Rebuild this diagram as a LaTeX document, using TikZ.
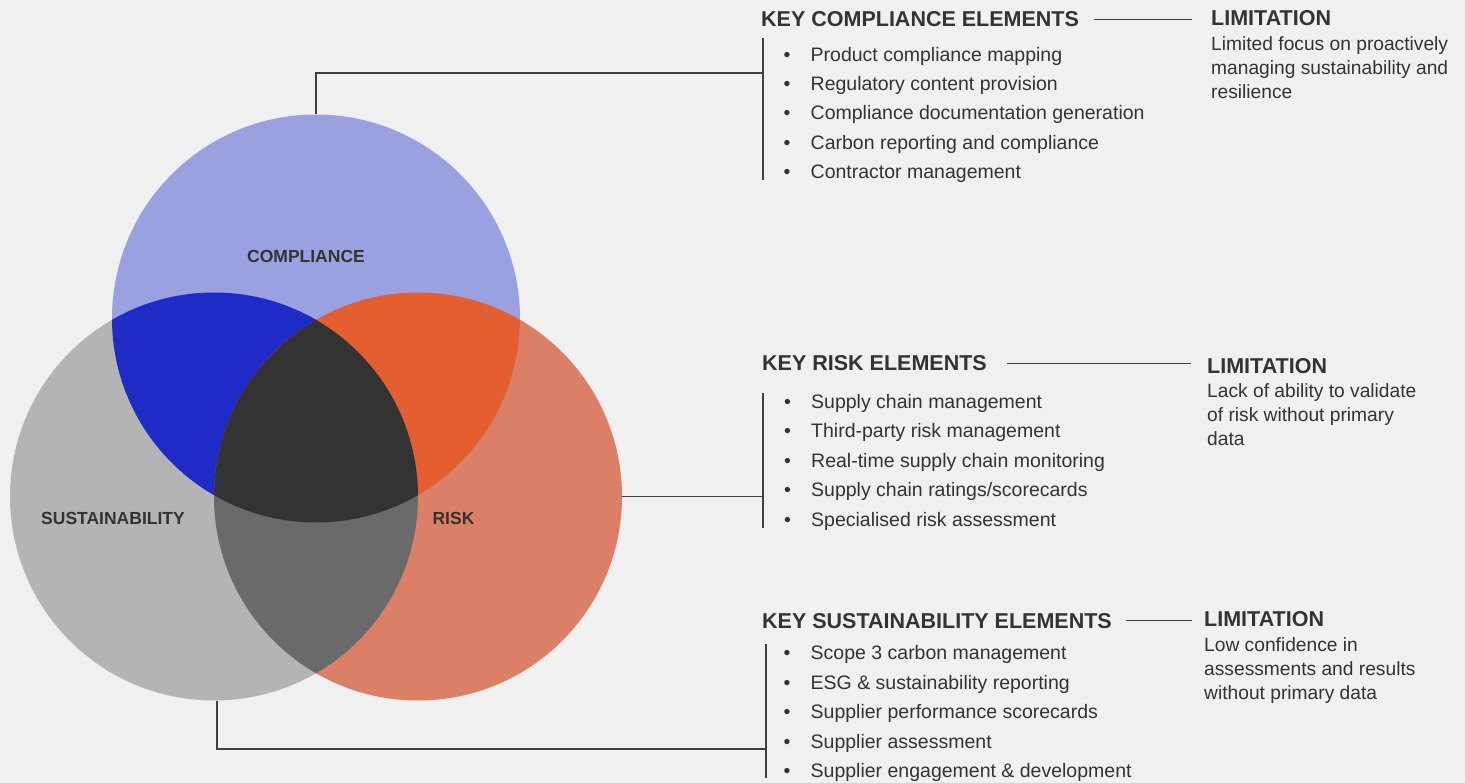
\documentclass[tikz,border=0pt]{standalone}
\usepackage{fontspec}
\setmainfont{Liberation Sans}
\usepackage{xcolor}
\definecolor{bgpaper}{HTML}{F0F0F0}
\definecolor{inkdark}{HTML}{333333}
\definecolor{linegrey}{HTML}{404040}
\definecolor{compfill}{HTML}{9BA1E0}
\definecolor{sustfill}{HTML}{B4B4B4}
\definecolor{riskfill}{HTML}{DB8066}
\definecolor{compsust}{HTML}{1F2BC6}
\definecolor{comprisk}{HTML}{E55E30}
\definecolor{sustrisk}{HTML}{6A6A6A}
\definecolor{allthree}{HTML}{333333}
\usepackage{tikz}
\usetikzlibrary{positioning,calc}
\tikzset{
  ring/.style={circle, minimum size=408pt, inner sep=0pt},
  setlabel/.style={font=\bfseries\fontsize{17.5}{21}\selectfont, text=inkdark, inner sep=0pt, anchor=base},
  elemhead/.style={font=\bfseries\fontsize{21.5}{26}\selectfont, text=inkdark, inner sep=0pt, anchor=base west},
  elemitem/.style={font=\fontsize{19.5}{24}\selectfont, text=inkdark, inner sep=0pt, anchor=base west},
  limtext/.style={font=\fontsize{19.2}{24}\selectfont, text=inkdark, inner sep=0pt, anchor=base west, align=left},
  link/.style={draw=linegrey, line width=1.2pt}
}

\begin{document}
\begin{tikzpicture}[x=1pt, y=-1pt]
  \fill[bgpaper] (0,0) rectangle (1465,783);
  \useasboundingbox (0,0) rectangle (1465,783);

  % the three sets
  \node[ring] (comp) at (316,318.5) {};
  \node[ring] (sust) at (214,496.5) {};
  \node[ring] (risk) at (418,496.5) {};

  \fill[sustfill] (sust.center) circle (204pt);
  \fill[riskfill] (risk.center) circle (204pt);
  \begin{scope}
    \clip (sust.center) circle (204pt);
    \fill[sustrisk] (risk.center) circle (204pt);
  \end{scope}
  \fill[compfill] (comp.center) circle (204pt);
  \begin{scope}
    \clip (comp.center) circle (204pt);
    \fill[compsust] (sust.center) circle (204pt);
    \fill[comprisk] (risk.center) circle (204pt);
    \clip (sust.center) circle (204pt);
    \fill[allthree] (risk.center) circle (204pt);
  \end{scope}

  \node[setlabel] (complab) at (306,262.3) {COMPLIANCE};
  \node[setlabel] (sustlab) at (113,524) {SUSTAINABILITY};
  \node[setlabel] (risklab) at (453.5,524) {RISK};

  % compliance block (limitation text sits on its last baseline)
  \node[elemhead] (comphead) at (761,26.7) {KEY COMPLIANCE ELEMENTS};
  \node[elemhead] (complimhead) at (1211,26) {LIMITATION};
  \node[limtext] (complim) at (1211,98.5) {Limited focus on proactively\\managing sustainability and\\resilience};
  \foreach \t [count=\i] in {Product compliance mapping, Regulatory content provision,
      Compliance documentation generation, Carbon reporting and compliance, Contractor management}
    \node[elemitem] (compitem\i) at (783.5,{61.5+29.25*(\i-1)}) {\makebox[27pt][l]{•}\t};
  \coordinate (compbartop) at (763,38);
  \coordinate (compbarbot) at (763,180);
  \coordinate (compjoin) at (763,73);
  \draw[link] (compbartop) -- (compbarbot);
  \draw[link] (comp.north) |- (compjoin);
  \draw[link, shorten <=15pt, shorten >=19pt] (comphead.east) -- (comphead.east -| complimhead.west);

  % risk block
  \node[elemhead] (riskhead) at (762,371) {KEY RISK ELEMENTS};
  \node[elemhead] (risklimhead) at (1207,374) {LIMITATION};
  \node[limtext] (risklim) at (1207,445.3) {Lack of ability to validate\\of risk without primary\\data};
  \foreach \t [count=\i] in {Supply chain management, Third-party risk management,
      Real-time supply chain monitoring, Supply chain ratings/scorecards, Specialised risk assessment}
    \node[elemitem] (riskitem\i) at (784,{408.5+29.4*(\i-1)}) {\makebox[27pt][l]{•}\t};
  \coordinate (riskbartop) at (763,393);
  \coordinate (riskbarbot) at (763,528);
  \coordinate (riskjoin) at (763,496.5);
  \draw[link] (riskbartop) -- (riskbarbot);
  \draw[link] (risk.east) -- (riskjoin);
  \draw[link, shorten <=20pt, shorten >=16pt] (riskhead.east) -- (riskhead.east -| risklimhead.west);

  % sustainability block
  \node[elemhead] (susthead) at (762,628) {KEY SUSTAINABILITY ELEMENTS};
  \node[elemhead] (sustlimhead) at (1204,626) {LIMITATION};
  \node[limtext] (sustlim) at (1204,699) {Low confidence in\\assessments and results\\without primary data};
  \foreach \t [count=\i] in {Scope 3 carbon management, ESG \& sustainability reporting,
      Supplier performance scorecards, Supplier assessment, Supplier engagement \& development}
    \node[elemitem] (sustitem\i) at (783.5,{659.5+29.5*(\i-1)}) {\makebox[27pt][l]{•}\t};
  \coordinate (sustbartop) at (766,644);
  \coordinate (sustbarbot) at (766,778);
  \coordinate (sustjoin) at (766,749);
  \draw[link] (sustbartop) -- (sustbarbot);
  \draw[link] ([xshift=3pt]sust.south) |- (sustjoin);
  \draw[link, shorten <=14pt, shorten >=12pt] (susthead.east) -- (susthead.east -| sustlimhead.west);
\end{tikzpicture}
\end{document}
